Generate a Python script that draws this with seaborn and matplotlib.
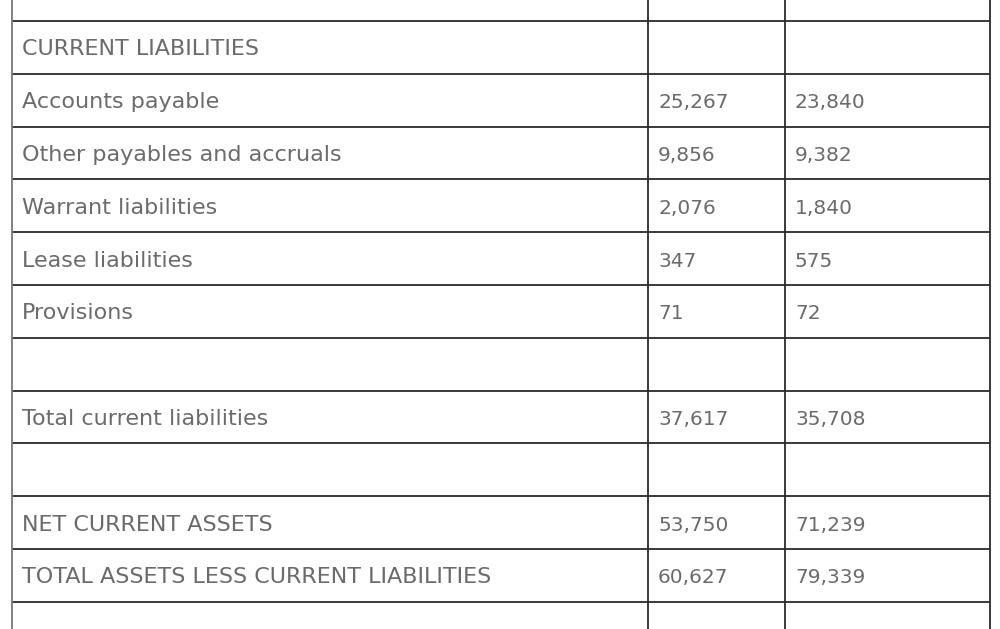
import matplotlib
matplotlib.use("Agg")
import matplotlib.pyplot as plt
import seaborn as sns

# Table contents (row labels and the two value columns)
labels = ["", "CURRENT LIABILITIES", "Accounts payable", "Other payables and accruals",
          "Warrant liabilities", "Lease liabilities", "Provisions", "",
          "Total current liabilities", "", "NET CURRENT ASSETS",
          "TOTAL ASSETS LESS CURRENT LIABILITIES", ""]
col_a = ["", "", "25,267", "9,856", "2,076", "347", "71", "", "37,617", "", "53,750", "60,627", ""]
col_b = ["", "", "23,840", "9,382", "1,840", "575", "72", "", "35,708", "", "71,239", "79,339", ""]

sns.set_theme(style="white")
plt.rcParams["font.family"] = ["DejaVu Sans"]

fig = plt.figure(figsize=(10, 6.29), dpi=100)
ax = fig.add_axes([0, 0, 1, 1])
ax.set_xlim(0, 1000)
ax.set_ylim(629, 0)
ax.axis("off")

# layout in pixel units
top = 21 - 52.8
row_h = 52.8
col_x = [12, 648, 785, 990]
line_col = "#2b2b2b"
text_col = "#6b6b6b"

n = len(labels)
for i in range(n + 1):
    y = top + i * row_h
    ax.hlines(y, col_x[0], col_x[-1], color=line_col, lw=1.3)
for j, x in enumerate(col_x):
    ax.vlines(x, -5, 640, color="#777777" if j == 0 else line_col, lw=1.3)

for i, (lab, a, b) in enumerate(zip(labels, col_a, col_b)):
    yb = top + (i + 0.5) * row_h + 8
    ax.text(col_x[0] + 10, yb, lab, color=text_col, fontsize=16, va="baseline", ha="left")
    ax.text(col_x[1] + 10, yb, a, color=text_col, fontsize=14.5, va="baseline", ha="left")
    ax.text(col_x[2] + 10, yb, b, color=text_col, fontsize=14.5, va="baseline", ha="left")

fig.savefig("out.png", dpi=100, facecolor="white")
